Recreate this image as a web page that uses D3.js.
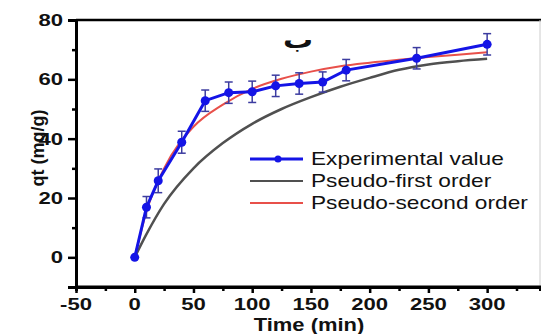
<!DOCTYPE html>
<html>
<head>
<meta charset="utf-8">
<script src="https://cdn.jsdelivr.net/npm/d3@7"></script>
<style>
  body { margin: 0; background: #fff; }
  svg { display: block; font-family: "Liberation Sans", Arial, sans-serif; }
</style>
</head>
<body>
<svg id="chart" width="541" height="334"></svg>
<script>
// experimental points
const timeExp = [0, 10, 20, 40, 60, 80, 100, 120, 140, 160, 180, 240, 300];
const qtExp = [0, 16.9, 25.8, 38.8, 52.8, 55.5, 55.8, 57.8, 58.6, 59.1, 63.1, 67.1, 71.8];
const errExp = [0, 3.6, 4.0, 3.7, 3.6, 3.6, 3.6, 3.6, 3.6, 3.4, 3.6, 3.6, 3.6];

// fitted curves
const timeFit = [0, 10, 25, 50, 75, 100, 125, 150, 175, 200, 225, 250, 275, 300];
const qtFirst = [0, 7.8, 18, 30, 38.5, 45, 50, 54, 57.5, 60.5, 63.2, 65.0, 66.1, 66.9];
const qtSecond = [0, 15.5, 30, 44, 51.5, 56.8, 60.2, 62.6, 64.4, 65.6, 66.6, 67.5, 68.3, 69.1];

const xTicks = [-50, 0, 50, 100, 150, 200, 250, 300];
const yTicks = [0, 20, 40, 60, 80];
const legendLabels = ["Experimental value", "Pseudo-first order", "Pseudo-second order"];

const svg = d3.select("#chart");
const x = d3.scaleLinear().domain([-50, 345]).range([76, 540]);
const y = d3.scaleLinear().domain([-10, 80]).range([287, 20]);

const blue = "#1414e6", navy = "#3c3ca0", grey = "#505050", red = "#e8504a";

// stretched text helper (the picture's lettering is wider than normal)
function label(sel, tx, ty, str, opts) {
  const g = sel.append("g").attr("transform", `translate(${tx},${ty}) scale(${opts.sx || 1},1)`);
  return g.append("text")
    .attr("text-anchor", opts.anchor || "start")
    .attr("dy", opts.dy || "0.35em")
    .style("font-size", opts.size + "px")
    .style("font-weight", opts.weight || "normal")
    .style("font-family", opts.family || null)
    .attr("fill", "#111")
    .text(str);
}

// frame
svg.append("line").attr("x1", 76).attr("x2", 541).attr("y1", 20).attr("y2", 20)
  .attr("stroke", "#000").attr("stroke-width", 2.5);
svg.append("line").attr("x1", 540).attr("x2", 540).attr("y1", 20).attr("y2", 287)
  .attr("stroke", "#ccc").attr("stroke-width", 1);

// y axis
const yAxis = svg.append("g").attr("transform", "translate(76,0)")
  .call(d3.axisLeft(y).tickValues(yTicks).tickSize(8).tickFormat(""));
yAxis.append("g").call(d3.axisLeft(y).tickValues(d3.range(-10, 80, 20)).tickSize(4).tickFormat(""));
yAxis.selectAll("path, line").attr("stroke", "#000").attr("stroke-width", 2.5);
yAxis.selectAll(".domain").attr("stroke-width", 3);
yTicks.forEach(v => label(svg, 63, y(v), v, { anchor: "end", size: 17, weight: "bold", sx: 1.3 }));

// x axis
const xAxis = svg.append("g").attr("transform", "translate(0,287)")
  .call(d3.axisBottom(x).tickValues(xTicks.concat([350])).tickSize(6).tickFormat("").tickSizeOuter(0));
xAxis.append("g").call(d3.axisBottom(x).tickValues(d3.range(-25, 345, 50)).tickSize(4).tickFormat(""));
xAxis.selectAll("path, line").attr("stroke", "#000").attr("stroke-width", 2.5);
xAxis.selectAll(".domain").attr("stroke-width", 3);
xAxis.select(".domain").attr("d", `M76,0H541`);
xTicks.forEach(v => label(svg, x(v), 304, v, { anchor: "middle", size: 17, weight: "bold", sx: 1.3 }));

// axis titles
label(svg, 309, 331, "Time (min)", { anchor: "middle", size: 18, weight: "bold", sx: 1.22, dy: "0" });
svg.append("text")
  .attr("transform", `translate(44,148) rotate(-90)`)
  .attr("text-anchor", "middle")
  .style("font-size", "18px").style("font-weight", "bold")
  .attr("fill", "#111")
  .text("qt (mg/g)");

// panel letter
label(svg, 298, 48, "ب", { anchor: "middle", size: 24, weight: "bold", sx: 1.25, family: "DejaVu Sans", dy: "0" });

// curves
const line = d3.line().x(d => x(d[0])).y(d => y(d[1]));
const smooth = d3.line().x(d => x(d[0])).y(d => y(d[1])).curve(d3.curveMonotoneX);

svg.append("path").datum(d3.zip(timeFit, qtFirst)).attr("d", smooth)
  .attr("fill", "none").attr("stroke", grey).attr("stroke-width", 2.5);
svg.append("path").datum(d3.zip(timeFit, qtSecond)).attr("d", smooth)
  .attr("fill", "none").attr("stroke", red).attr("stroke-width", 2);

// error bars
const exp = timeExp.map((t, i) => ({ t, q: qtExp[i], e: errExp[i] }));
const eb = svg.append("g").attr("stroke", navy).attr("stroke-width", 1.5);
exp.filter(d => d.e > 0).forEach(d => {
  eb.append("line").attr("x1", x(d.t)).attr("x2", x(d.t)).attr("y1", y(d.q - d.e)).attr("y2", y(d.q + d.e));
  [d.q - d.e, d.q + d.e].forEach(v =>
    eb.append("line").attr("x1", x(d.t) - 4).attr("x2", x(d.t) + 4).attr("y1", y(v)).attr("y2", y(v)));
});

svg.append("path").datum(exp.map(d => [d.t, d.q])).attr("d", line)
  .attr("fill", "none").attr("stroke", blue).attr("stroke-width", 3);
svg.append("g").selectAll("circle").data(exp).join("circle")
  .attr("cx", d => x(d.t)).attr("cy", d => y(d.q)).attr("r", 4.5).attr("fill", blue);

// legend
const legColors = [blue, grey, red];
const legY = [159, 181, 203];
legendLabels.forEach((name, i) => {
  svg.append("line").attr("x1", 250).attr("x2", 303).attr("y1", legY[i]).attr("y2", legY[i])
    .attr("stroke", legColors[i]).attr("stroke-width", i === 0 ? 3 : 2.2);
  if (i === 0) svg.append("circle").attr("cx", 278).attr("cy", legY[i]).attr("r", 3.5).attr("fill", blue);
  label(svg, 311, legY[i], name, { size: 18, sx: 1.26 });
});
</script>
</body>
</html>
